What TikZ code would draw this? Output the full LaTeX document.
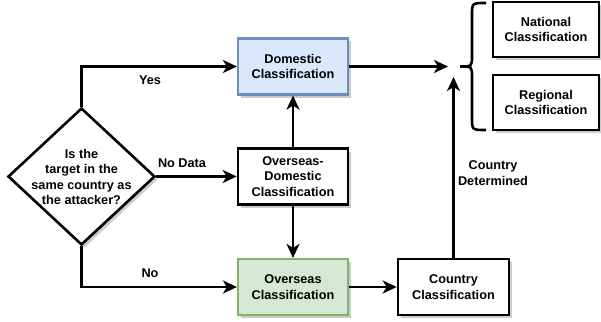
\documentclass[tikz,border=0pt]{standalone}
\usepackage{fontspec}
\setmainfont{Liberation Sans}
\usetikzlibrary{shapes.geometric,arrows.meta,shadows}
\definecolor{domfill}{HTML}{DAE8FC}
\definecolor{domline}{HTML}{6C8EBF}
\definecolor{ovsfill}{HTML}{D5E8D4}
\definecolor{ovsline}{HTML}{82B366}
\tikzset{
    every node/.style={font=\fontsize{12.7}{15.5}\selectfont\bfseries, align=center},
    softshadow/.style={drop shadow={shadow xshift=3pt, shadow yshift=-3pt, fill=black!20, opacity=1}},
    stage/.style={draw=black, line width=2.6pt, fill=white, minimum width=110pt, minimum height=56pt, inner sep=0pt, softshadow},
    domestic/.style={draw=domline, fill=domfill, line width=2.2pt},
    overseas/.style={draw=ovsline, fill=ovsfill, line width=2.2pt},
    decision/.style={diamond, draw=black, line width=2.6pt, fill=white, minimum width=147pt, minimum height=137pt, inner sep=0pt, softshadow},
    flow/.style={line width=2.6pt, -{Stealth[length=14pt, width=13pt, inset=4pt]}}
}
\begin{document}
\begin{tikzpicture}[x=1pt,y=-1pt]
    \useasboundingbox (0,0) rectangle (601,321);
    % decision
    \node[decision] (ask) at (81.5,176.5) {};
    \node (asktext) at (81.5,177) {Is the\\target in the\\same country as\\the attacker?};
    % classification boxes
    \node[stage, domestic] (dom) at (293,66.5) {Domestic\\Classification};
    \node[stage] (odom) at (293,176.5) {Overseas-\\Domestic\\Classification};
    \node[stage, overseas] (ovs) at (293,287) {Overseas\\Classification};
    \node[stage, minimum width=111pt] (ctry) at (453.5,287) {Country\\Classification};
    \node[stage, minimum width=106pt, minimum height=55pt] (nat) at (546,29.5) {National\\Classification};
    \node[stage, minimum width=106pt, minimum height=55pt] (reg) at (546,102.5) {Regional\\Classification};
    \coordinate (hubW) at (448,66.5);
    \coordinate (hubS) at (453.5,77);
    % brace
    \draw[line width=2.6pt] (486,3) .. controls (472,3) .. (472,15) -- (472,56)
        .. controls (472,66.5) .. (460,66.5) .. controls (472,66.5) .. (472,77)
        -- (472,118) .. controls (472,130) .. (486,130);
    % connectors
    \draw[flow] (ask.north) |- (dom.west);
    \draw[flow] (ask.east) -- (odom.west);
    \draw[flow] (ask.south) |- (ovs.west);
    \draw[flow] (odom.north) -- (dom.south);
    \draw[flow] (odom.south) -- (ovs.north);
    \draw[flow] (ovs.east) -- (ctry.west);
    \draw[flow] (dom.east) -- (hubW);
    \draw[flow] (ctry.north) -- (hubS);
    % labels
    \node (yes) at (150,80) {Yes};
    \node (nodata) at (182,163) {No Data};
    \node (no) at (150,273) {No};
    \node (det) at (493,173) {Country\\Determined};
\end{tikzpicture}
\end{document}
